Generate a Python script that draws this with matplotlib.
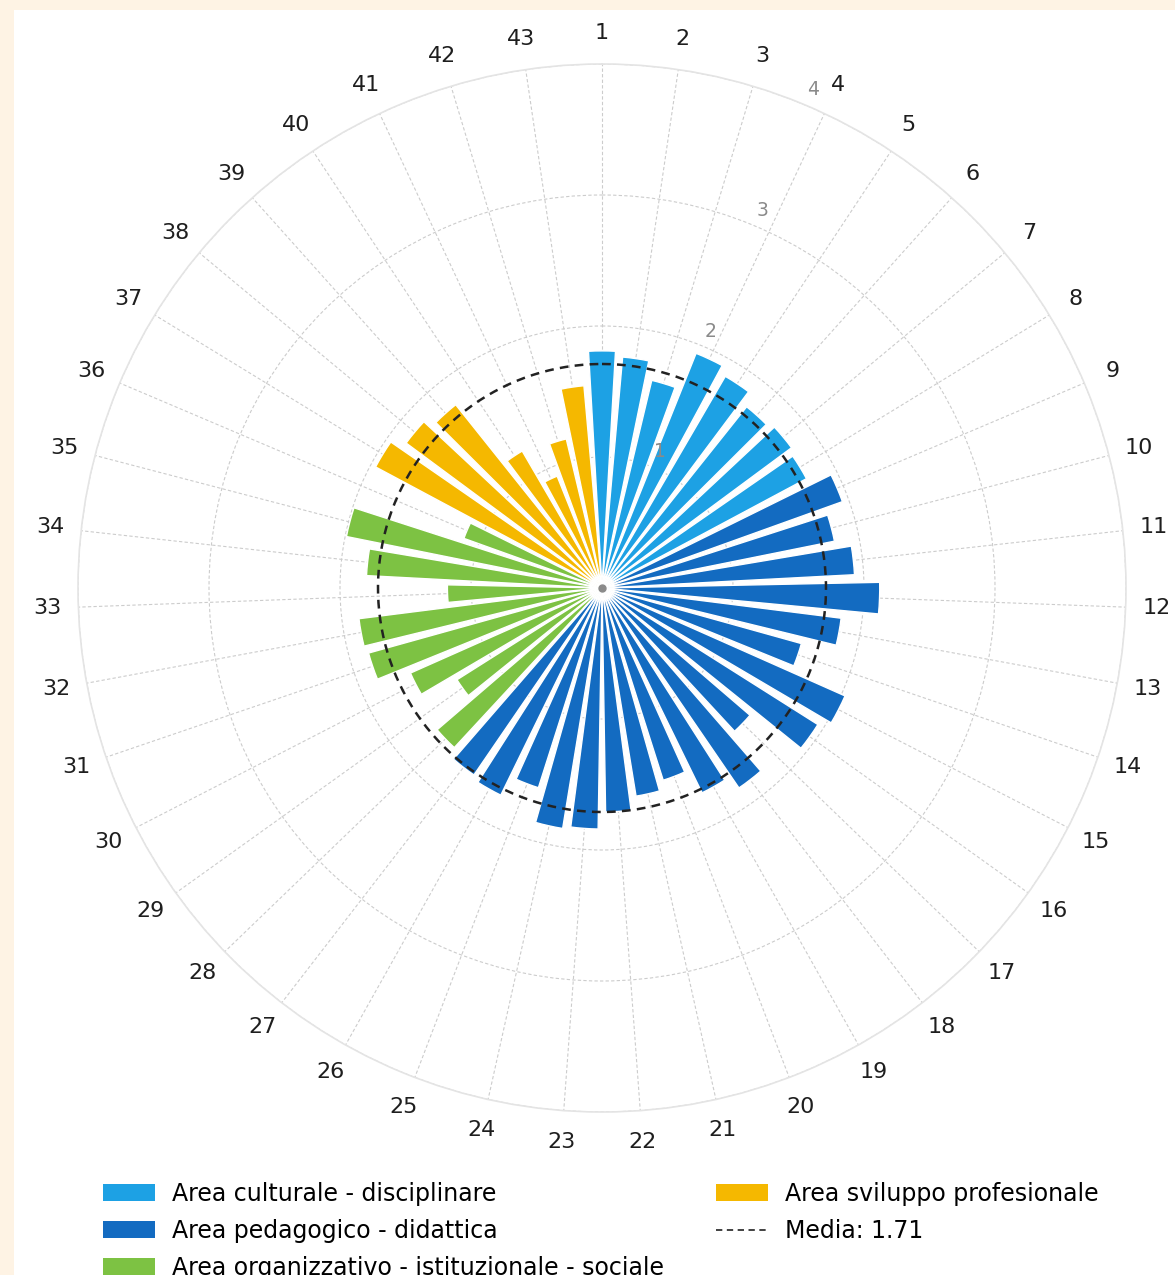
import numpy as np
import matplotlib
matplotlib.use("Agg")
import matplotlib.pyplot as plt
from matplotlib.patches import Patch, Rectangle
from matplotlib.lines import Line2D

# ---- data ----
items = [str(i) for i in range(1, 44)]
values = [1.81, 1.77, 1.63, 1.93, 1.87, 1.77, 1.80, 1.77, 1.95, 1.81,
          1.93, 2.12, 1.84, 1.58, 2.03, 1.95, 1.49, 1.85, 1.74, 1.54,
          1.61, 1.71, 1.84, 1.86, 1.60, 1.76, 1.73, 1.66, 1.31, 1.60,
          1.85, 1.87, 1.18, 1.80, 1.99, 1.12, 1.96, 1.86, 1.79, 1.21,
          0.92, 1.17, 1.55]
areas = (["cult"] * 8 + ["ped"] * 19 + ["org"] * 9 + ["svil"] * 7)
area_names = {
    "cult": "Area culturale - disciplinare",
    "ped": "Area pedagogico - didattica",
    "org": "Area organizzativo - istituzionale - sociale",
    "svil": "Area sviluppo profesionale",
}
area_colors = {"cult": "#1DA1E4", "ped": "#136BC1", "org": "#7DC243", "svil": "#F5B800"}
mean_value = 1.71
r_ticks = [1, 2, 3, 4]

# ---- figure ----
W, H = 1175, 1275
fig = plt.figure(figsize=(W / 100, H / 100), dpi=100)
fig.patch.set_facecolor("#FEF3E4")
fig.add_artist(Rectangle((14 / W, 0), 1, 1 - 10 / H, transform=fig.transFigure,
                         facecolor="white", edgecolor="none", zorder=-10))

cx, cy, R = 602, 588, 524
ax = fig.add_axes([(cx - R) / W, (H - cy - R) / H, 2 * R / W, 2 * R / H], projection="polar")
ax.set_facecolor("white")
ax.set_theta_zero_location("N")
ax.set_theta_direction(-1)

n = len(values)
theta = np.arange(n) * 2 * np.pi / n
ax.bar(theta, values, width=2 * np.pi / n * 0.78,
       color=[area_colors[a] for a in areas], edgecolor="white", linewidth=1.0, zorder=3)

tt = np.linspace(0, 2 * np.pi, 500)
ax.plot(tt, np.full_like(tt, mean_value), color="#222222", linestyle=(0, (3.5, 2.5)),
        linewidth=1.8, zorder=4)
ax.plot([0], [0], marker="o", markersize=5, color="#8a8a8a", zorder=5)

ax.set_ylim(0, 4)
ax.set_yticks(r_ticks)
ax.set_yticklabels([])
for r in r_ticks:
    ax.text(np.deg2rad(23), r + 0.13, str(r), color="#8a8a8a", fontsize=13.5,
            ha="center", va="center", zorder=5)

ax.set_xticks(theta)
ax.set_xticklabels(items, fontsize=16, color="#1e1e1e")
ax.tick_params(axis="x", pad=12)
ax.grid(True, linestyle=(0, (3, 2)), color="#cccccc", linewidth=0.8)
ax.spines["polar"].set_color("#e4e4e4")
ax.spines["polar"].set_linewidth(1.2)

handles = [Patch(facecolor=area_colors[k], edgecolor="none") for k in ["cult", "ped", "org", "svil"]]
handles.append(Line2D([0], [0], color="#333333", linestyle=(0, (3.5, 2.5)), linewidth=1.3))
labels = [area_names[k] for k in ["cult", "ped", "org", "svil"]] + [f"Media: {mean_value}"]
fig.legend(handles, labels, ncol=2, loc="upper left", bbox_to_anchor=(103 / W, 1 - 1182 / H),
           frameon=False, fontsize=17, handlelength=2.2, handleheight=0.76,
           handletextpad=0.72, columnspacing=2.2, labelspacing=0.55, borderpad=0,
           borderaxespad=0)

fig.savefig("out.png", dpi=100, facecolor=fig.get_facecolor())
